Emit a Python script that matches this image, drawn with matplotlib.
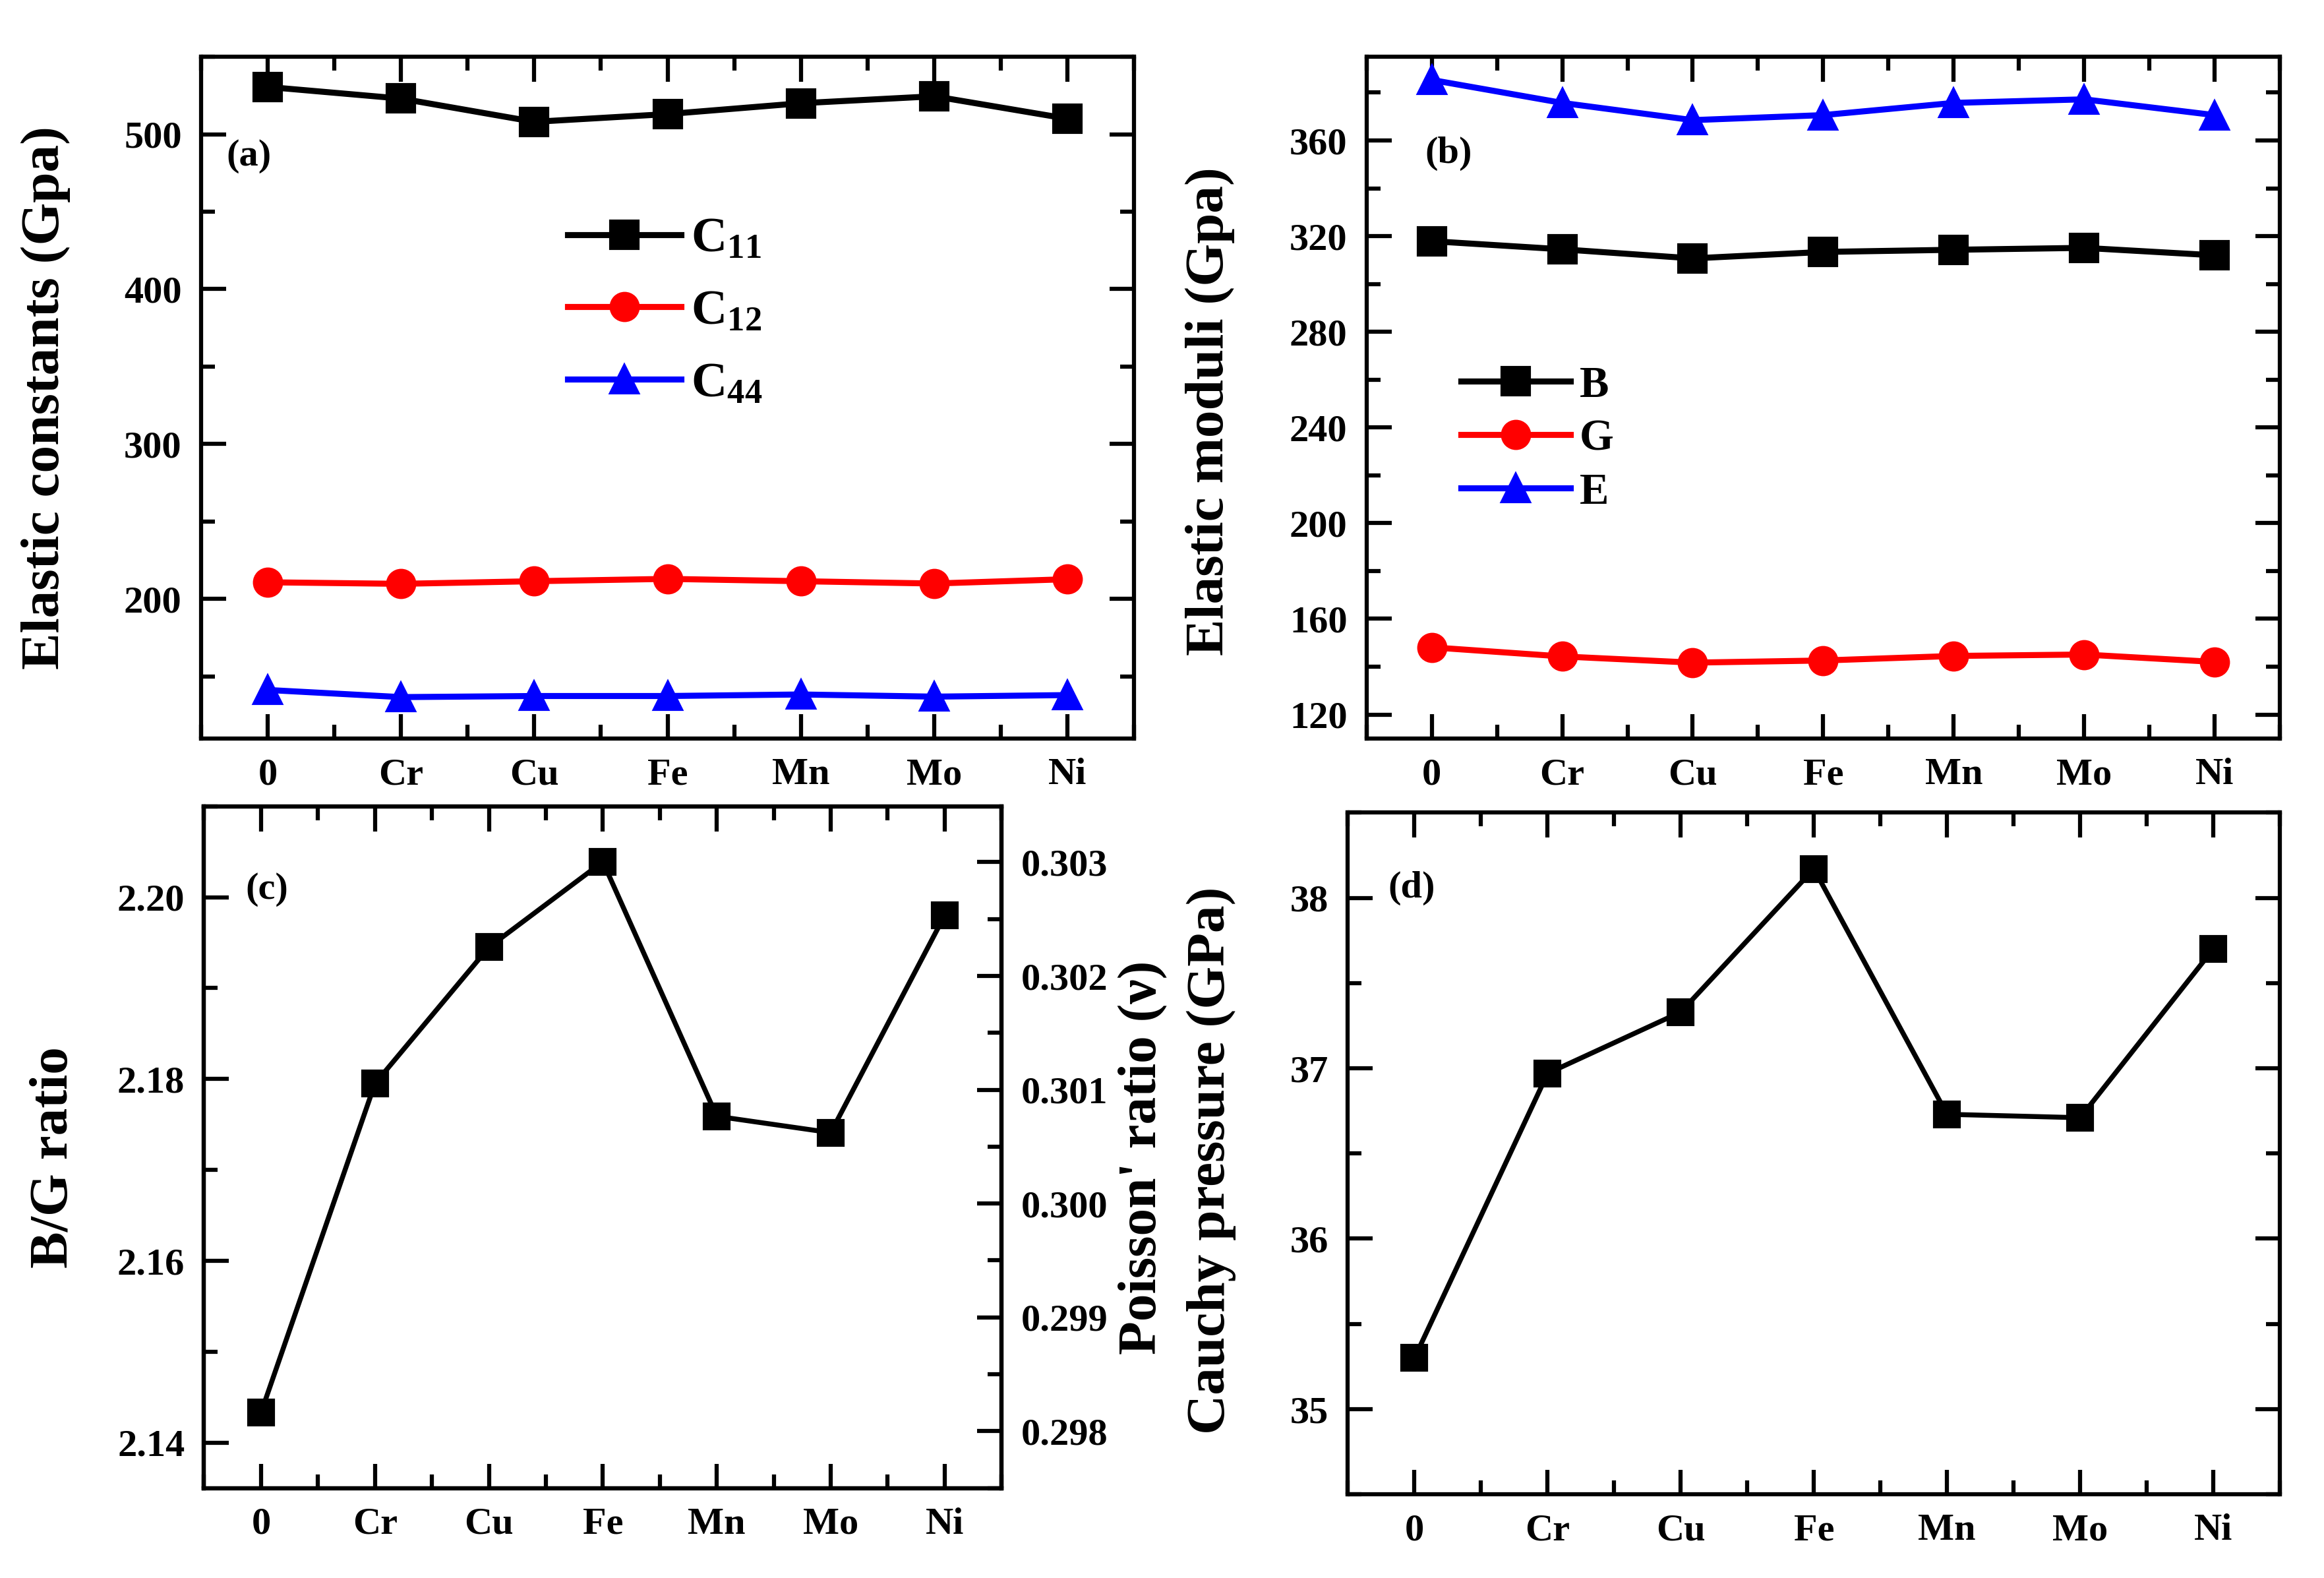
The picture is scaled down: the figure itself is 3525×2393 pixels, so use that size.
import numpy as np
import matplotlib
matplotlib.use("Agg")
import matplotlib.pyplot as plt
from matplotlib.ticker import MultipleLocator

plt.rcParams['font.family'] = ['Liberation Serif', 'DejaVu Serif']
plt.rcParams['font.weight'] = 'bold'
plt.rcParams['mathtext.fontset'] = 'custom'
plt.rcParams['mathtext.rm'] = 'Liberation Serif:bold'
plt.rcParams['mathtext.it'] = 'Liberation Serif:bold:italic'
plt.rcParams['mathtext.bf'] = 'Liberation Serif:bold'
plt.rcParams['axes.linewidth'] = 1.5

elements = ['0', 'Cr', 'Cu', 'Fe', 'Mn', 'Mo', 'Ni']

# (a) elastic constants (GPa)
c11 = [530.5, 523.0, 508.0, 513.0, 520.0, 524.5, 510.0]
c12 = [210.8, 209.8, 211.5, 213.0, 211.5, 210.0, 212.8]
c44 = [141.3, 136.7, 137.4, 137.4, 138.4, 137.0, 138.0]

# (b) elastic moduli (GPa)
bulk = [317.9, 314.5, 310.7, 313.4, 314.3, 315.1, 312.0]
shear = [148.1, 144.3, 141.7, 142.6, 144.5, 145.1, 142.0]
young = [385.3, 375.7, 368.5, 370.6, 375.7, 377.2, 370.6]

# (c) B/G ratio
bg_ratio = [2.1433, 2.1795, 2.1945, 2.2039, 2.1759, 2.1741, 2.1980]

# (d) Cauchy pressure (GPa)
cauchy = [35.30, 36.97, 37.33, 38.17, 36.73, 36.71, 37.70]

x = np.arange(len(elements))

fig = plt.figure(figsize=(11.75, 7.977), dpi=300)
ax_a = fig.add_axes([0.0865, 0.532, 0.4015, 0.432])
ax_b = fig.add_axes([0.588, 0.532, 0.393, 0.432])
ax_c = fig.add_axes([0.0878, 0.057, 0.3432, 0.432])
ax_d = fig.add_axes([0.580, 0.053, 0.401, 0.432])

tick_fs = 14
label_fs = 20


def style(ax, right=True):
    ax.set_xlim(-0.5, 6.5)
    ax.set_xticks(x)
    ax.set_xticklabels(elements)
    ax.xaxis.set_minor_locator(MultipleLocator(0.5))
    ax.tick_params(which='both', direction='in', top=True, right=right,
                   width=1.5, labelsize=tick_fs, pad=7)
    ax.tick_params(which='major', length=9)
    ax.tick_params(which='minor', length=5)
    for lab in ax.get_xticklabels() + ax.get_yticklabels():
        lab.set_fontweight('bold')


# panel (a)
ax_a.plot(x, c11, '-s', color='black', lw=2.2, ms=10, label=r'C$_{11}$')
ax_a.plot(x, c12, '-o', color='#ff0000', lw=2.2, ms=10, label=r'C$_{12}$')
ax_a.plot(x, c44, '-^', color='#0000ff', lw=2.2, ms=10, label=r'C$_{44}$')
ax_a.set_ylim(110, 550)
ax_a.yaxis.set_major_locator(MultipleLocator(100))
ax_a.yaxis.set_minor_locator(MultipleLocator(50))
style(ax_a)
ax_a.set_ylabel('Elastic constants (Gpa)', fontsize=label_fs, fontweight='bold')
ax_a.yaxis.set_label_coords(-0.140, 0.5)
ax_a.text(0.027, 0.854, '(a)', transform=ax_a.transAxes, fontsize=14,
          fontweight='bold', va='center')
ax_a.legend(loc='upper left', bbox_to_anchor=(0.345, 0.83), frameon=False,
            fontsize=18, handlelength=2.3, labelspacing=0.55, handletextpad=0.2)

# panel (b)
ax_b.plot(x, bulk, '-s', color='black', lw=2.2, ms=10, label='B')
ax_b.plot(x, shear, '-o', color='#ff0000', lw=2.2, ms=10, label='G')
ax_b.plot(x, young, '-^', color='#0000ff', lw=2.2, ms=10, label='E')
ax_b.set_ylim(110, 395)
ax_b.yaxis.set_major_locator(MultipleLocator(40))
ax_b.yaxis.set_minor_locator(MultipleLocator(20))
style(ax_b)
ax_b.set_ylabel('Elastic moduli (Gpa)', fontsize=label_fs, fontweight='bold')
ax_b.yaxis.set_label_coords(-0.144, 0.48)
ax_b.text(0.064, 0.858, '(b)', transform=ax_b.transAxes, fontsize=14,
          fontweight='bold', va='center')
ax_b.legend(loc='upper left', bbox_to_anchor=(0.06, 0.605), frameon=False,
            fontsize=16, handlelength=2.5, labelspacing=0.3, handletextpad=0.2)

# panel (c)
ax_c.plot(x, bg_ratio, '-s', color='black', lw=1.8, ms=9)
ax_c.set_ylim(2.135, 2.21)
ax_c.yaxis.set_major_locator(MultipleLocator(0.02))
ax_c.yaxis.set_minor_locator(MultipleLocator(0.01))
ax_c.yaxis.set_major_formatter(plt.FormatStrFormatter('%.2f'))
style(ax_c, right=False)
ax_c.set_ylabel('B/G ratio', fontsize=label_fs, fontweight='bold')
ax_c.yaxis.set_label_coords(-0.157, 0.485)
ax_c.text(0.052, 0.878, '(c)', transform=ax_c.transAxes, fontsize=14,
          fontweight='bold', va='center')
ax_c2 = ax_c.twinx()
ax_c2.set_ylim(0.2975, 0.30349)
ax_c2.yaxis.set_major_locator(MultipleLocator(0.001))
ax_c2.yaxis.set_minor_locator(MultipleLocator(0.0005))
ax_c2.yaxis.set_major_formatter(plt.FormatStrFormatter('%.3f'))
ax_c2.tick_params(which='both', direction='in', width=1.5, labelsize=tick_fs, pad=7)
ax_c2.tick_params(which='major', length=9)
ax_c2.tick_params(which='minor', length=5)
for lab in ax_c2.get_yticklabels():
    lab.set_fontweight('bold')
ax_c2.set_ylabel("Poisson' ratio (ν)", fontsize=label_fs, fontweight='bold')
ax_c2.yaxis.set_label_coords(1.146, 0.485)

# panel (d)
ax_d.plot(x, cauchy, '-s', color='black', lw=1.8, ms=9)
ax_d.set_ylim(34.5, 38.5)
ax_d.yaxis.set_major_locator(MultipleLocator(1))
ax_d.yaxis.set_minor_locator(MultipleLocator(0.5))
style(ax_d)
ax_d.set_ylabel('Cauchy pressure (GPa)', fontsize=label_fs, fontweight='bold')
ax_d.yaxis.set_label_coords(-0.12, 0.49)
ax_d.text(0.043, 0.889, '(d)', transform=ax_d.transAxes, fontsize=14,
          fontweight='bold', va='center')

fig.savefig('out.png', dpi=300)
